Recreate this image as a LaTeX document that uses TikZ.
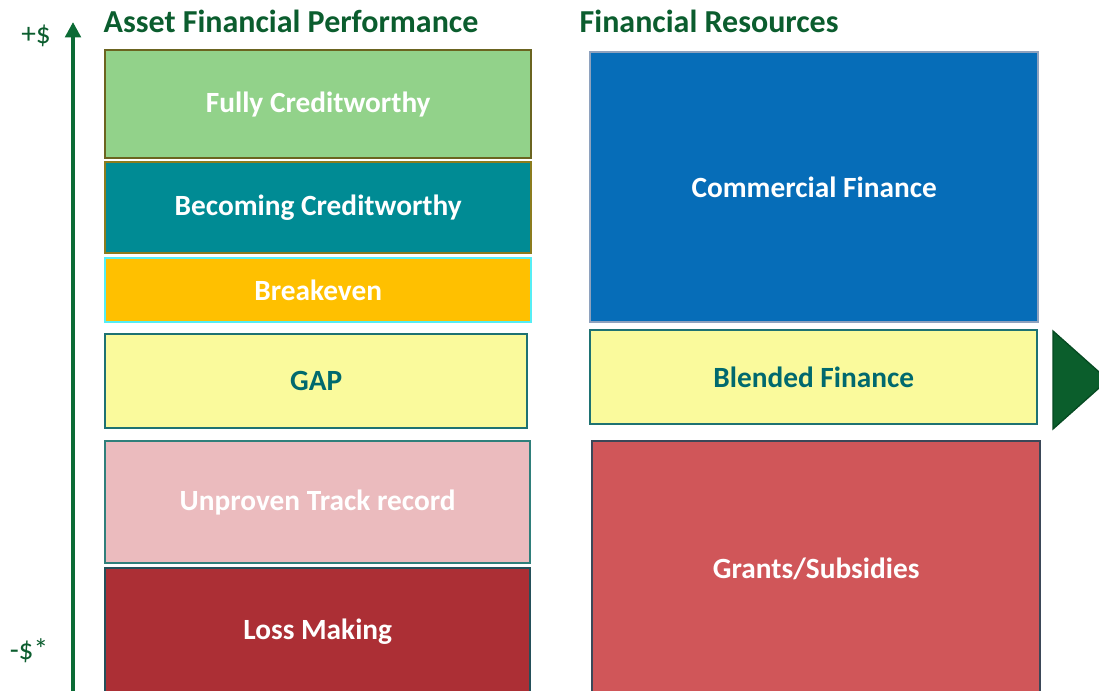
\documentclass[tikz,border=0pt]{standalone}
\usepackage{fontspec}
\setmainfont{Carlito}
\usetikzlibrary{arrows.meta}

\definecolor{titlegreen}{HTML}{0B5D2E}
\definecolor{axisgreen}{HTML}{0B6B35}
\definecolor{fullfill}{HTML}{92D28A}
\definecolor{fulledge}{HTML}{6B6420}
\definecolor{becfill}{HTML}{008B94}
\definecolor{becedge}{HTML}{8C7C1E}
\definecolor{evenfill}{HTML}{FFC000}
\definecolor{evenedge}{HTML}{55EEF5}
\definecolor{gapfill}{HTML}{FAFA9C}
\definecolor{gapedge}{HTML}{1E7272}
\definecolor{gaptext}{HTML}{00696E}
\definecolor{trackfill}{HTML}{EBBBBE}
\definecolor{trackedge}{HTML}{2F7F7B}
\definecolor{lossfill}{HTML}{AC2F35}
\definecolor{lossedge}{HTML}{24505A}
\definecolor{commfill}{HTML}{066DB8}
\definecolor{commedge}{HTML}{8EA2BE}
\definecolor{grantfill}{HTML}{D05659}
\definecolor{grantedge}{HTML}{3B4858}
\definecolor{pointer}{HTML}{0B5E2C}
\definecolor{pointeredge}{HTML}{064A22}

\begin{document}
\begin{tikzpicture}[
    x=0.75pt, y=-0.75pt,
    box/.style={draw, line width=1.8pt, anchor=north west, inner sep=0pt,
        text=white, font=\bfseries\fontsize{22}{26}\selectfont},
    wh/.style 2 args={minimum width=#1*0.75pt, minimum height=#2*0.75pt},
    heading/.style={anchor=west, text=titlegreen, font=\bfseries\fontsize{24}{28}\selectfont},
    scale label/.style={text=titlegreen, font=\fontsize{22}{26}\selectfont}
]
\useasboundingbox (0,0) rectangle (1099,690);
\clip (0,0) rectangle (1099,690);

% headings
\node[heading] (perf) at (99,21) {Asset Financial Performance};
\node[heading] (res) at (575,21) {Financial Resources};

% vertical scale
\coordinate (axisbot) at (73,692);
\coordinate (axistop) at (73,22);
\draw[axisgreen, line width=3.5pt, -{Triangle[length=11.5pt,width=11.5pt]}] (axisbot) -- (axistop);
\node[scale label] (plus) at (36,36) {+\$};
\node[scale label] (minus) at (29,651) {-\$*};

% left column
\node[box, wh={426}{108}, fill=fullfill, draw=fulledge] (full) at (104,49) {Fully Creditworthy};
\node[box, wh={426}{91}, fill=becfill, draw=becedge] (becoming) at (104,161) {Becoming Creditworthy};
\node[box, wh={426}{64}, fill=evenfill, draw=evenedge] (even) at (104,257) {Breakeven};
\node[box, wh={422}{94}, fill=gapfill, draw=gapedge, text=gaptext] (gap) at (104,333) {GAP};
\node[box, wh={425}{122}, fill=trackfill, draw=trackedge] (track) at (104,440) {Unproven Track record};
\node[box, wh={425}{126}, fill=lossfill, draw=lossedge] (loss) at (104,567) {Loss Making};

% right column
\node[box, wh={448}{270}, fill=commfill, draw=commedge] (comm) at (589,51) {Commercial Finance};
\node[box, wh={447}{94}, fill=gapfill, draw=gapedge, text=gaptext] (blended) at (589,329) {Blended Finance};
\node[box, wh={448}{256}, fill=grantfill, draw=grantedge] (grants) at (591,440) {Grants/Subsidies};

% pointer
\draw[fill=pointer, draw=pointeredge, line width=1pt] (1053,331) -- (1108,380) -- (1053,429) -- cycle;

\end{tikzpicture}
\end{document}
